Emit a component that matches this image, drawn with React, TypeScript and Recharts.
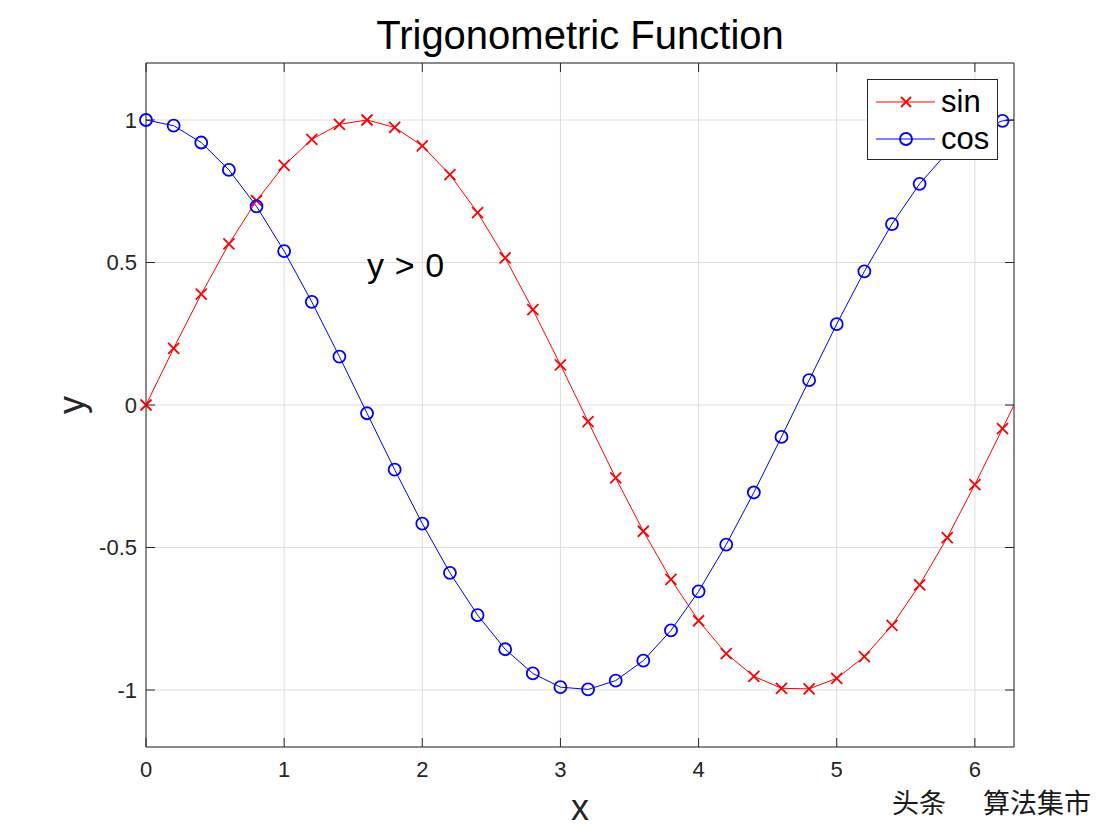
import React from "react";
import { CartesianGrid, Label, Legend, Line, LineChart, ReferenceDot, ReferenceLine, XAxis, YAxis } from "recharts";

// samples every 0.2 from 0 to 6.2, then the line runs on to 2*pi (no marker there)
const X_VALUES = [
  0, 0.2, 0.4, 0.6, 0.8, 1.0, 1.2, 1.4, 1.6, 1.8, 2.0, 2.2, 2.4, 2.6, 2.8, 3.0,
  3.2, 3.4, 3.6, 3.8, 4.0, 4.2, 4.4, 4.6, 4.8, 5.0, 5.2, 5.4, 5.6, 5.8, 6.0, 6.2, 6.283,
];
const SIN_VALUES = [
  0, 0.199, 0.389, 0.565, 0.717, 0.841, 0.932, 0.985, 1.0, 0.974, 0.909, 0.808, 0.675, 0.516, 0.335, 0.141,
  -0.058, -0.256, -0.443, -0.612, -0.757, -0.872, -0.952, -0.994, -0.996, -0.959, -0.883, -0.773, -0.631, -0.465, -0.279, -0.083, 0.0,
];
const COS_VALUES = [
  1.0, 0.98, 0.921, 0.825, 0.697, 0.54, 0.362, 0.17, -0.029, -0.227, -0.416, -0.589, -0.737, -0.857, -0.942, -0.99,
  -0.998, -0.967, -0.897, -0.791, -0.654, -0.49, -0.307, -0.112, 0.087, 0.284, 0.469, 0.635, 0.776, 0.886, 0.96, 0.997, 1.0,
];
const X_TICKS = [0, 1, 2, 3, 4, 5, 6];
const Y_TICKS = [-1, -0.5, 0, 0.5, 1];
const X_DOMAIN: [number, number] = [0, 6.2832];
const Y_DOMAIN: [number, number] = [-1.2, 1.2];
const ANNOTATION = { x: 1.6, y: 0.5, text: "y > 0" };
const SERIES_ORDER = ["sin", "cos"];

const data = X_VALUES.map((x, i) => ({ x, sin: SIN_VALUES[i], cos: COS_VALUES[i] }));
const LAST = X_VALUES.length - 1;

const RED = "#ff0000";
const BLUE = "#0000ff";
const AXIS = "#262626";
const GRID = "#dedede";
const FONT = "'Liberation Sans', Arial, Helvetica, sans-serif";
const TICK_LEN = 9;

// plot box (MATLAB axes position)
const W = 1120;
const H = 840;
const BOX = { top: 63, bottom: 747, left: 146, right: 1014 };
const Y_AXIS_W = 60;
const X_AXIS_H = 60;

const CrossDot = (props: any) => {
  const { cx, cy, index } = props;
  if (index === LAST || cx == null) return <g key={`s-${index}`} />;
  const h = 5.5;
  return (
    <path
      key={`s-${index}`}
      d={`M${cx - h},${cy - h}L${cx + h},${cy + h}M${cx - h},${cy + h}L${cx + h},${cy - h}`}
      stroke={RED}
      strokeWidth={1.8}
      fill="none"
    />
  );
};

const CircleDot = (props: any) => {
  const { cx, cy, index } = props;
  if (index === LAST || cx == null) return <g key={`c-${index}`} />;
  return <circle key={`c-${index}`} cx={cx} cy={cy} r={6} stroke={BLUE} strokeWidth={1.8} fill="none" />;
};

// ticks point inward on all four sides
const BottomTick = ({ x, payload }: any) => (
  <g>
    <line x1={x} x2={x} y1={BOX.bottom} y2={BOX.bottom - TICK_LEN} stroke={AXIS} />
    <line x1={x} x2={x} y1={BOX.top} y2={BOX.top + TICK_LEN} stroke={AXIS} />
    <text x={x} y={BOX.bottom + 30} textAnchor="middle" fontSize={22} fontFamily={FONT} fill={AXIS}>
      {payload.value}
    </text>
  </g>
);

const LeftTick = ({ y, payload }: any) => (
  <g>
    <line x1={BOX.left} x2={BOX.left + TICK_LEN} y1={y} y2={y} stroke={AXIS} />
    <line x1={BOX.right} x2={BOX.right - TICK_LEN} y1={y} y2={y} stroke={AXIS} />
    <text x={BOX.left - 9} y={y + 7.5} textAnchor="end" fontSize={22} fontFamily={FONT} fill={AXIS}>
      {payload.value}
    </text>
  </g>
);

const XTitle = ({ viewBox }: any) => (
  <text x={viewBox.x + viewBox.width / 2} y={BOX.bottom + 73} textAnchor="middle" fontSize={36} fontFamily={FONT} fill={AXIS}>
    x
  </text>
);

const YTitle = ({ viewBox }: any) => {
  const cx = BOX.left - 62;
  const cy = viewBox.y + viewBox.height / 2;
  return (
    <text x={cx} y={cy} transform={`rotate(-90, ${cx}, ${cy})`} textAnchor="middle" fontSize={36} fontFamily={FONT} fill={AXIS}>
      y
    </text>
  );
};

const AnnotationText = ({ viewBox }: any) => (
  <text x={viewBox.x} y={viewBox.y + 14.5} fontSize={34} letterSpacing={0.6} fontFamily={FONT} fill="#000">
    {ANNOTATION.text}
  </text>
);

const LegendBox = ({ payload }: any) => {
  const items = [...(payload || [])].sort((a: any, b: any) => SERIES_ORDER.indexOf(a.value) - SERIES_ORDER.indexOf(b.value));
  return (
    <svg width={131} height={81} style={{ display: "block" }}>
      <rect x={0.5} y={0.5} width={130} height={80} fill="#fff" stroke={AXIS} />
      {items.map((p: any, i: number) => {
        const cy = 23 + i * 37;
        return (
          <g key={p.value}>
            <line x1={9} x2={68} y1={cy} y2={cy} stroke={p.color} strokeWidth={1} />
            {p.value === "sin" ? (
              <path d={`M34,${cy - 5}L44,${cy + 5}M34,${cy + 5}L44,${cy - 5}`} stroke={p.color} strokeWidth={1.8} />
            ) : (
              <circle cx={39} cy={cy} r={6} stroke={p.color} strokeWidth={1.8} fill="none" />
            )}
            <text x={74} y={cy + 10} fontSize={31} fontFamily={FONT} fill="#000">
              {p.value}
            </text>
          </g>
        );
      })}
    </svg>
  );
};

export default function App() {
  return (
    <div style={{ position: "absolute", left: 0, top: 0, width: W, height: H, background: "#fff", fontFamily: FONT }}>
      <div
        style={{
          position: "absolute",
          left: BOX.left,
          top: 15,
          width: BOX.right - BOX.left,
          textAlign: "center",
          fontSize: 40,
          lineHeight: "40px",
          color: "#000",
        }}
      >
        Trigonometric Function
      </div>

      <LineChart
        width={W}
        height={H}
        data={data}
        margin={{ top: BOX.top, right: W - BOX.right, bottom: H - BOX.bottom - X_AXIS_H, left: BOX.left - Y_AXIS_W }}
      >
        <CartesianGrid stroke={GRID} />
        <XAxis
          dataKey="x"
          type="number"
          domain={X_DOMAIN}
          ticks={X_TICKS}
          height={X_AXIS_H}
          tickLine={false}
          axisLine={{ stroke: AXIS }}
          tick={BottomTick}
          interval={0}
        >
          <Label content={XTitle} />
        </XAxis>
        <YAxis
          type="number"
          domain={Y_DOMAIN}
          ticks={Y_TICKS}
          width={Y_AXIS_W}
          tickLine={false}
          axisLine={{ stroke: AXIS }}
          tick={LeftTick}
          interval={0}
        >
          <Label content={YTitle} />
        </YAxis>
        <ReferenceLine y={Y_DOMAIN[1]} stroke={AXIS} />
        <ReferenceLine x={X_DOMAIN[1]} stroke={AXIS} />
        <Line
          name="sin"
          dataKey="sin"
          type="linear"
          stroke={RED}
          strokeWidth={1}
          dot={CrossDot}
          activeDot={false}
          isAnimationActive={false}
        />
        <Line
          name="cos"
          dataKey="cos"
          type="linear"
          stroke={BLUE}
          strokeWidth={1}
          dot={CircleDot}
          activeDot={false}
          isAnimationActive={false}
        />
        <ReferenceDot x={ANNOTATION.x} y={ANNOTATION.y} r={0} fill="none" stroke="none" label={<Label content={AnnotationText} />} />
        <Legend
          layout="horizontal"
          verticalAlign="middle"
          align="center"
          content={LegendBox}
          wrapperStyle={{ position: "absolute", left: 867, top: 79, width: 131, height: 81 }}
        />
      </LineChart>

      <div
        style={{
          position: "absolute",
          left: 892,
          top: 788,
          fontFamily: "'Noto Sans CJK SC', sans-serif",
          fontSize: 27,
          lineHeight: "27px",
          color: "#1a1a1a",
          whiteSpace: "nowrap",
        }}
      >
        头条<span style={{ display: "inline-block", width: 37 }} />算法集市
      </div>
    </div>
  );
}
